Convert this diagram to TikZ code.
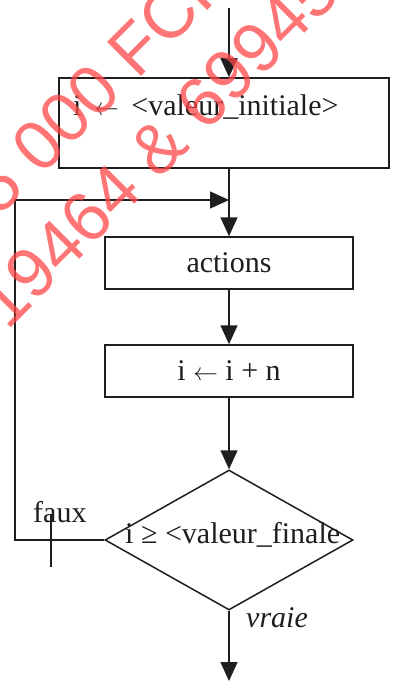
\documentclass[tikz,border=0pt]{standalone}
\usepackage{fontspec}
\setmainfont{Liberation Serif}
\newfontfamily\wmfont{Liberation Sans}
\usetikzlibrary{arrows.meta,shapes.geometric}
\definecolor{wm}{RGB}{255,70,70}
\definecolor{ink}{RGB}{30,30,30}
\begin{document}
\begin{tikzpicture}[x=1pt,y=-1pt,
  box/.style={draw=ink, line width=1.5pt, rectangle, inner sep=0pt},
  lbl/.style={inner sep=0pt, font=\fontsize{30}{35}\selectfont, text=ink},
  flow/.style={draw=ink, line width=1.5pt},
  arr/.style={flow, -{Triangle[length=19pt,width=17pt]}},
  wmtext/.style={inner sep=0pt, anchor=base west, rotate=45, text=wm, text opacity=0.75,
    font=\wmfont\fontsize{70}{80}\selectfont}]
\useasboundingbox (0,0) rectangle (392,682);
% boxes
\node[box, minimum width=330pt, minimum height=90pt] (b1) at (224,123) {};
\node[lbl, anchor=base west] (t1) at (73,116) {i \,$\leftarrow$\, <valeur\_initiale>};
\node[box, lbl, minimum width=248pt, minimum height=52pt] (b2) at (229,263) {actions};
\node[box, lbl, minimum width=248pt, minimum height=52pt] (b3) at (229,371) {i $\leftarrow$ i + n};
\node[draw=ink, line width=1.5pt, diamond, minimum width=248pt, minimum height=140pt, inner sep=0pt] (d) at (229,540) {};
\node[lbl, anchor=base west] (t4) at (125,543) {i ≥ <valeur\_finale};
% labels
\node[lbl, anchor=base west] (faux) at (33,522) {faux};
\node[lbl, anchor=base west, font=\fontsize{30}{35}\selectfont\itshape] (vraie) at (246,627) {vraie};
% connectors
\coordinate (top) at (229,8);
\coordinate (out) at (229,681);
\coordinate (lb) at (15,540);
\coordinate (lt) at (15,200);
\coordinate (k1) at (51,515);
\coordinate (k2) at (51,567);
\draw[arr] (top) -- (top |- b1.north);
\draw[arr] (b2.north |- b1.south) -- (b2.north);
\draw[arr] (b2.south) -- (b3.north);
\draw[arr] (b3.south) -- (d.north);
\draw[arr] (d.south) -- (out);
\draw[arr] (d.west) -- (lb) -- (lt) -- (lt -| b2.north);
\draw[flow] (k1) -- (k2);
% watermark
\begin{scope}
\clip (0,0) rectangle (392,682);
\node[wmtext] (wm1) at (-0.2,217.8) {5 000 FCFA};
\node[wmtext] (wm2) at (7,331.5) {19464 \& 69945};
\end{scope}
\end{tikzpicture}
\end{document}
